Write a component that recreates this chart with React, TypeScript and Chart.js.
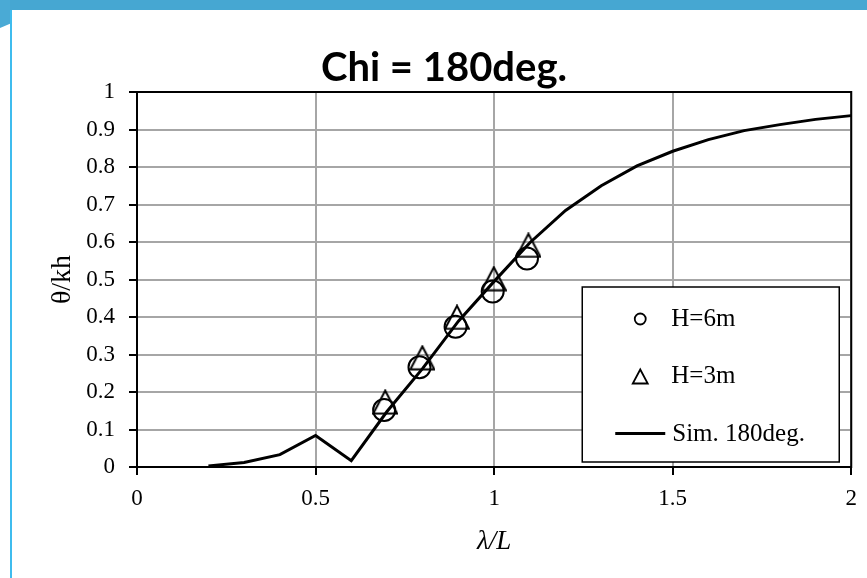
import React, { useEffect, useRef } from "react";
import { Chart, registerables } from "chart.js";

Chart.register(...registerables);

// ---- data ----
const simX = [0.2, 0.3, 0.4, 0.5, 0.6, 0.7, 0.8, 0.9, 1.0, 1.1, 1.2, 1.3, 1.4, 1.5, 1.6, 1.7, 1.8, 1.9, 2.0];
const simY = [0.003, 0.012, 0.033, 0.084, 0.017, 0.148, 0.263, 0.389, 0.495, 0.598, 0.684, 0.75, 0.803, 0.842, 0.873, 0.897, 0.913, 0.927, 0.937];

const h6X = [0.692, 0.791, 0.892, 0.996, 1.092];
const h6Y = [0.152, 0.266, 0.374, 0.468, 0.556];

const h3X = [0.695, 0.799, 0.896, 0.999, 1.096];
const h3Y = [0.173, 0.291, 0.399, 0.502, 0.591];

const xTicks = [0, 0.5, 1, 1.5, 2];
const yTicks = [0, 0.1, 0.2, 0.3, 0.4, 0.5, 0.6, 0.7, 0.8, 0.9, 1];

const titleText = "Chi = 180deg.";
const xTitle = "λ/L";
const yTitle = "θ/kh";
const labelH6 = "H=6m";
const labelH3 = "H=3m";
const labelSim = "Sim. 180deg.";

const SERIF = "'Liberation Serif', 'Times New Roman', serif";

const CANVAS_LEFT = 35;
const CANVAS_W = 867 - CANVAS_LEFT;

function makeTriangle(): HTMLCanvasElement {
  const c = document.createElement("canvas");
  c.width = 26;
  c.height = 26;
  const g = c.getContext("2d")!;
  g.strokeStyle = "#000";
  g.lineWidth = 2;
  g.beginPath();
  g.moveTo(13, 1.5);
  g.lineTo(25, 24.5);
  g.lineTo(1, 24.5);
  g.closePath();
  g.stroke();
  return c;
}

const framePlugin = {
  id: "frameAndLegend",
  beforeDatasetsDraw(chart: any) {
    const { ctx, chartArea: a } = chart;
    ctx.save();
    ctx.strokeStyle = "#000";
    ctx.lineWidth = 2;
    ctx.strokeRect(a.left, a.top, a.right - a.left, a.bottom - a.top);
    ctx.restore();
  },
  afterDatasetsDraw(chart: any) {
    const { ctx, chartArea: a } = chart;
    const ds = chart.data.datasets;
    const w = 257;
    const h = 175;
    const left = a.right - 12 - w;
    const top = a.bottom - 5 - h;
    ctx.save();
    ctx.fillStyle = "#fff";
    ctx.fillRect(left, top, w, h);
    ctx.strokeStyle = "#000";
    ctx.lineWidth = 1.5;
    ctx.strokeRect(left, top, w, h);

    // circle item
    ctx.lineWidth = 1.8;
    ctx.beginPath();
    ctx.arc(left + 58, top + 32, 5.5, 0, Math.PI * 2);
    ctx.stroke();
    // triangle item
    const ty = top + 89.5;
    ctx.beginPath();
    ctx.moveTo(left + 58, ty - 7);
    ctx.lineTo(left + 65.5, ty + 7);
    ctx.lineTo(left + 50.5, ty + 7);
    ctx.closePath();
    ctx.stroke();
    // line item
    ctx.lineWidth = 3;
    ctx.beginPath();
    ctx.moveTo(left + 33, top + 146.5);
    ctx.lineTo(left + 83, top + 146.5);
    ctx.stroke();

    ctx.fillStyle = "#000";
    ctx.font = `25px ${SERIF}`;
    ctx.textBaseline = "middle";
    ctx.textAlign = "left";
    ctx.fillText(ds[0].label, left + 89, top + 32);
    ctx.fillText(ds[1].label, left + 89, top + 89.5);
    ctx.fillText(ds[2].label, left + 90, top + 147);
    ctx.restore();
  },
};

export default function App() {
  const ref = useRef<HTMLCanvasElement | null>(null);

  useEffect(() => {
    document.body.style.margin = "0";
    const tri = makeTriangle();
    const chart = new Chart(ref.current!, {
      type: "scatter",
      data: {
        datasets: [
          {
            label: labelH6,
            data: h6X.map((x, i) => ({ x, y: h6Y[i] })),
            showLine: false,
            pointStyle: "circle",
            pointRadius: 11,
            borderColor: "#000",
            borderWidth: 2,
            backgroundColor: "rgba(0,0,0,0)",
          },
          {
            label: labelH3,
            data: h3X.map((x, i) => ({ x, y: h3Y[i] })),
            showLine: false,
            pointStyle: tri,
            pointRadius: 12,
            borderColor: "#000",
            backgroundColor: "rgba(0,0,0,0)",
          },
          {
            label: labelSim,
            data: simX.map((x, i) => ({ x, y: simY[i] })),
            showLine: true,
            pointRadius: 0,
            borderColor: "#000",
            borderWidth: 3,
            tension: 0,
            backgroundColor: "#000",
          },
        ],
      },
      options: {
        responsive: false,
        animation: false,
        devicePixelRatio: 1,
        layout: { padding: { left: 0, right: 14, top: 0, bottom: 0 } },
        plugins: {
          legend: { display: false },
          tooltip: { enabled: false },
          title: {
            display: true,
            text: titleText,
            color: "#000",
            font: { family: "Lato", weight: "bold", size: 40, lineHeight: 1 },
            padding: { top: 48, bottom: 4 },
          },
        },
        scales: {
          x: {
            type: "linear",
            min: 0,
            max: 2,
            afterFit: (s: any) => {
              s.height = 111;
            },
            afterBuildTicks: (s: any) => {
              s.ticks = xTicks.map((v) => ({ value: v }));
            },
            ticks: {
              color: "#000",
              padding: 10,
              font: { family: SERIF, size: 23 },
              maxRotation: 0,
              callback: (v: any) => String(v),
            },
            grid: {
              color: "#a6a6a6",
              lineWidth: 2,
              tickColor: "#000",
              tickLength: 8,
              tickWidth: 2,
            },
            border: { color: "#000", width: 2 },
            title: {
              display: true,
              text: xTitle,
              color: "#000",
              font: { family: SERIF, size: 27, style: "italic" },
              padding: { top: 0, bottom: 20 },
            },
          },
          y: {
            type: "linear",
            min: 0,
            max: 1,
            afterFit: (s: any) => {
              s.width = 137 - CANVAS_LEFT;
            },
            afterBuildTicks: (s: any) => {
              s.ticks = yTicks.map((v) => ({ value: v }));
            },
            ticks: {
              color: "#000",
              padding: 14,
              font: { family: SERIF, size: 23 },
              callback: (v: any) => String(v),
            },
            grid: {
              color: "#a6a6a6",
              lineWidth: 2,
              tickColor: "#000",
              tickLength: 8,
              tickWidth: 2,
            },
            border: { color: "#000", width: 2 },
            title: {
              display: true,
              text: yTitle,
              color: "#000",
              font: { family: SERIF, size: 28 },
              padding: { top: 11, bottom: 0 },
            },
          },
        },
      },
      plugins: [framePlugin],
    } as any);
    return () => chart.destroy();
  }, []);

  return (
    <div
      style={{
        position: "fixed",
        left: 0,
        top: 0,
        width: 867,
        height: 578,
        background: "#fff",
        overflow: "hidden",
      }}
    >
      <canvas
        ref={ref}
        width={CANVAS_W}
        height={578}
        style={{ position: "absolute", left: CANVAS_LEFT, top: 0, width: CANVAS_W, height: 578 }}
      />
      <div style={{ position: "absolute", left: 0, top: 0, width: 867, height: 10, background: "#46a7d2" }} />
      <div
        style={{
          position: "absolute",
          left: 0,
          top: 0,
          width: 10,
          height: 28,
          background: "#4aaad5",
          clipPath: "polygon(0 0, 100% 0, 100% 85%, 0 100%)",
        }}
      />
      <div style={{ position: "absolute", left: 10, top: 10, width: 2, height: 568, background: "#3fbcee" }} />
    </div>
  );
}
